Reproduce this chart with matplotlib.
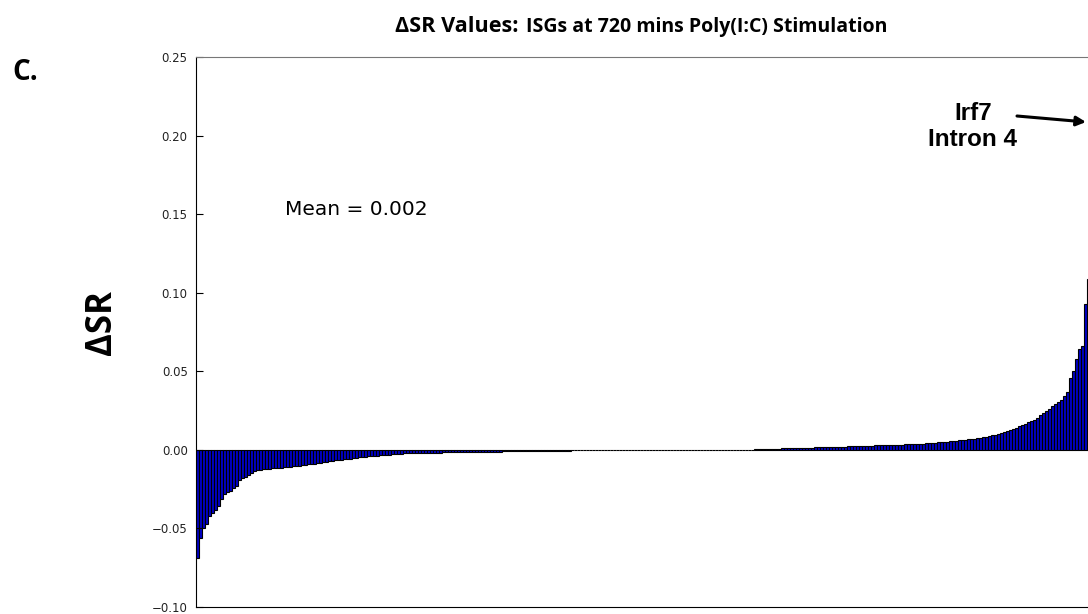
import numpy as np
import matplotlib
matplotlib.use('Agg')
import matplotlib.pyplot as plt

# sorted delta-SR values left to right
neg_tail = [-0.069, -0.056, -0.050, -0.047, -0.042, -0.040, -0.038, -0.036, -0.031, -0.028,
            -0.027, -0.026, -0.024, -0.023, -0.019, -0.018, -0.017, -0.016, -0.0145, -0.0135,
            -0.013]
neg_body = [-0.0125, -0.0123, -0.0121, -0.0119, -0.0117, -0.0116, -0.0115, -0.0113, -0.0111, -0.0108,
            -0.0106, -0.0104, -0.0102, -0.0100, -0.0097, -0.0094, -0.0092, -0.0090, -0.0087, -0.0084,
            -0.0081, -0.0078, -0.0075, -0.0072, -0.0069, -0.0066, -0.0064, -0.0062, -0.0060, -0.0058,
            -0.0055, -0.0053, -0.0050, -0.0048, -0.0046, -0.0044, -0.0042, -0.0040, -0.0038, -0.0036,
            -0.0034, -0.0032, -0.0031, -0.0030, -0.0029, -0.0028, -0.0026, -0.0024, -0.0023, -0.0022,
            -0.0021, -0.0021, -0.0020, -0.0020, -0.0019, -0.0019, -0.0018, -0.0018, -0.0018, -0.0017]
neg_small = [-0.0017, -0.0016, -0.0016, -0.0016, -0.0015, -0.0015, -0.0015, -0.0014, -0.0014, -0.0014,
             -0.0013, -0.0013, -0.0013, -0.0012, -0.0012, -0.0012, -0.0012, -0.0011, -0.0011, -0.0011,
             -0.0011, -0.0010, -0.0010, -0.0010, -0.0010, -0.0009, -0.0009, -0.0009, -0.0009, -0.0008,
             -0.0008, -0.0008, -0.0007, -0.0007, -0.0007, -0.0007, -0.0006, -0.0006, -0.0006, -0.0006,
             -0.0005, -0.0005, -0.0005, -0.0005, -0.0004, -0.0004, -0.0004, -0.0004, -0.0004, -0.0003,
             -0.0003, -0.0003]
near_zero = [-0.0002, -0.0002, -0.0002, -0.0002, -0.0002, -0.0002, -0.0002, -0.0002, -0.0002, -0.0002,
             -0.0001, -0.0001, -0.0001, -0.0001, -0.0001, -0.0001, -0.0001, -0.0001, -0.0001, -0.0001,
             -0.0001, -0.0001, -0.0001, -0.0001, -0.0001, 0.0, 0.0, 0.0, 0.0, 0.0,
             0.0, 0.0, 0.0, 0.0001, 0.0001, 0.0001, 0.0001, 0.0001, 0.0001, 0.0001,
             0.0001, 0.0001, 0.0001, 0.0001, 0.0001, 0.0002, 0.0002, 0.0002, 0.0002, 0.0002,
             0.0002, 0.0002, 0.0002]
pos_small = [0.0003, 0.0004, 0.0004, 0.0005, 0.0005, 0.0006, 0.0007, 0.0007, 0.0008, 0.0009,
             0.0010, 0.0010, 0.0011, 0.0012, 0.0013, 0.0013, 0.0014, 0.0014, 0.0015, 0.0015,
             0.0016, 0.0016, 0.0017, 0.0017, 0.0018, 0.0018, 0.0019, 0.0019, 0.0020, 0.0020,
             0.0021, 0.0022, 0.0022, 0.0023, 0.0024, 0.0024, 0.0025, 0.0026, 0.0026, 0.0027,
             0.0028, 0.0028, 0.0029, 0.0030, 0.0031, 0.0031, 0.0032, 0.0033, 0.0033, 0.0034,
             0.0035, 0.0036, 0.0036, 0.0037, 0.0038, 0.0039, 0.0040, 0.0041, 0.0042]
pos_body = [0.0044, 0.0046, 0.0047, 0.0049, 0.0050, 0.0052, 0.0054, 0.0056, 0.0058, 0.0060,
            0.0062, 0.0064, 0.0066, 0.0068, 0.0071, 0.0075, 0.0078, 0.0082, 0.0085, 0.0088,
            0.0092, 0.0097, 0.0104, 0.0110]
pos_tail = [0.0115, 0.0120, 0.0127, 0.0133, 0.0140, 0.0150, 0.0158, 0.0165, 0.0175, 0.0185,
            0.0192, 0.0205, 0.0220, 0.0232, 0.0245, 0.0262, 0.0276, 0.0290, 0.0305, 0.0320,
            0.0340, 0.0370, 0.0455, 0.050, 0.058, 0.064, 0.066, 0.093, 0.109, 0.115,
            0.210]  # last one is Irf7 intron 4

dsr = np.array(neg_tail + neg_body + neg_small + near_zero + pos_small + pos_body + pos_tail)
mean_label = 'Mean = 0.002'
yticks = [-0.10, -0.05, 0.00, 0.05, 0.10, 0.15, 0.20, 0.25]

W, H = 1088, 614
fig = plt.figure(figsize=(W / 100, H / 100), dpi=100)
n = len(dsr)
# axes runs a bit past the right edge, like the cropped original
ax = fig.add_axes([196 / W, 7 / H, (3 * n) / W, 550 / H])

ax.bar(np.arange(n), dsr, width=1.0, align='edge', color='#0000c8',
       edgecolor='black', linewidth=0.8)
ax.set_xlim(0, n)
ax.set_ylim(-0.10, 0.25)
ax.set_xticks([])
ax.set_yticks(yticks)
ax.set_yticklabels(['\u22120.10', '\u22120.05', '0.00', '0.05', '0.10', '0.15', '0.20', '0.25'])
ax.tick_params(axis='y', direction='in', length=5, width=0.8, labelsize=8.5,
               pad=6, labelcolor='#222222', right=True)
ax.spines['top'].set_color('#777777')
ax.spines['left'].set_color('black')
ax.spines['bottom'].set_color('black')

ax.text(285 / W, 1 - 215 / H, mean_label, transform=fig.transFigure,
        fontsize=14.5, family='DejaVu Sans', va='baseline', ha='left')

# Irf7 label + arrow
fig.text(973 / W, 1 - 126.5 / H, 'Irf7\nIntron 4', fontsize=17.5, fontweight='bold',
         family='Liberation Sans', ha='center', va='center', linespacing=1.2)
ax.annotate('', xy=(1086 / W, 1 - 122 / H), xycoords='figure fraction',
            xytext=(1017 / W, 1 - 116 / H), textcoords='figure fraction',
            arrowprops=dict(arrowstyle='-|>', color='black', lw=2.2,
                            mutation_scale=14, shrinkA=0, shrinkB=0))

# title in two sizes
fig.text(395 / W, 1 - 32 / H, '\u0394SR Values:', fontsize=15.6, fontweight='bold',
         family='Open Sans', ha='left', va='baseline')
fig.text(526 / W, 1 - 32 / H, 'ISGs at 720 mins Poly(I:C) Stimulation', fontsize=14,
         fontweight='bold', family='Open Sans', ha='left', va='baseline')

fig.text(12 / W, 1 - 80 / H, 'C.', fontsize=20, fontweight='bold', family='Open Sans',
         ha='left', va='baseline')
fig.text(102 / W, 1 - 323 / H, '\u0394SR', fontsize=25, fontweight='bold', family='Open Sans',
         rotation=90, ha='center', va='center')

fig.savefig('out.png', dpi=100)
